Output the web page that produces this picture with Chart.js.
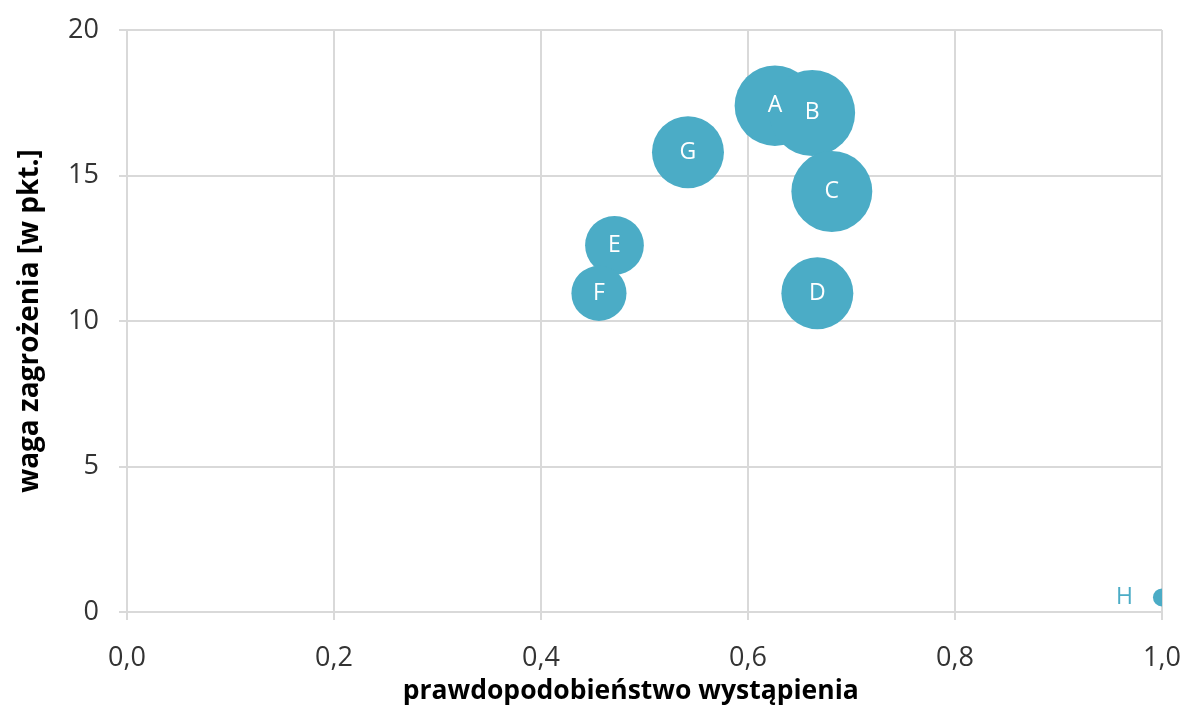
<!DOCTYPE html>
<html>
<head>
<meta charset="utf-8">
<script src="https://cdn.jsdelivr.net/npm/chart.js@4/dist/chart.umd.min.js"></script>
<style>
  html, body { margin: 0; padding: 0; background: #fff; }
  #wrap { width: 1187px; height: 715px; position: relative; }
</style>
</head>
<body>
<div id="wrap"><canvas id="riskChart"></canvas></div>
<script>
// zagrożenia A-H
const labels = ['A', 'B', 'C', 'D', 'E', 'F', 'G', 'H'];
const prawdopodobienstwo = [0.626, 0.662, 0.681, 0.667, 0.471, 0.456, 0.542, 1.0];
const waga = [17.4, 17.15, 14.45, 10.95, 12.6, 10.95, 15.8, 0.5];
const ryzyko = [10.9, 12.4, 11.0, 8.7, 5.8, 5.1, 8.7, 0.55];
const xTicks = [0, 0.2, 0.4, 0.6, 0.8, 1.0];
const yTicks = [0, 5, 10, 15, 20];

const blue = '#4bacc6';
const font = "'Open Sans', 'Noto Sans', sans-serif";

const points = labels.map((l, i) => ({ x: prawdopodobienstwo[i], y: waga[i], v: ryzyko[i], name: l }));

// big bubbles otherwise push the chart area inwards
Chart.BubbleController.prototype.getMaxOverflow = () => 0;

// napisy w bąbelkach
const bubbleLabels = {
  id: 'bubbleLabels',
  afterDatasetsDraw(chart) {
    const ctx = chart.ctx;
    const meta = chart.getDatasetMeta(0);
    ctx.save();
    ctx.font = '23px ' + font;
    ctx.textBaseline = 'middle';
    meta.data.forEach((el, i) => {
      const p = points[i];
      if (p.v < 1) {
        ctx.fillStyle = blue;
        ctx.textAlign = 'right';
        ctx.fillText(p.name, el.x - 29, el.y);
      } else {
        ctx.fillStyle = '#ffffff';
        ctx.textAlign = 'center';
        ctx.fillText(p.name, el.x, el.y);
      }
    });
    ctx.restore();
  }
};

new Chart(document.getElementById('riskChart'), {
  type: 'bubble',
  data: {
    datasets: [{
      data: points,
      backgroundColor: blue,
      borderWidth: 0,
      hoverBorderWidth: 0,
      clip: 0,
      radius: (c) => Math.sqrt(c.raw.v) * 12.2
    }]
  },
  options: {
    responsive: true,
    maintainAspectRatio: false,
    animation: false,
    layout: { padding: { top: 30, right: 25, left: 0, bottom: 0 } },
    plugins: {
      legend: { display: false },
      tooltip: { enabled: false }
    },
    scales: {
      x: {
        type: 'linear',
        min: 0,
        max: 1,
        afterBuildTicks: (s) => { s.ticks = xTicks.map(v => ({ value: v })); },
        afterFit: (s) => { s.height = 103; s.paddingLeft = 0; s.paddingRight = 0; },
        grid: { color: '#d9d9d9', lineWidth: 2, tickLength: 8 },
        border: { color: '#d9d9d9', width: 2 },
        ticks: {
          color: '#333333',
          padding: 22,
          font: { family: font, size: 27 },
          callback: (v) => v.toFixed(1).replace('.', ',')
        },
        title: {
          display: true,
          // trailing spaces nudge the centred title a bit to the left
          text: 'prawdopodobieństwo wystąpienia    ',
          color: '#000',
          padding: { top: 0, bottom: 8 },
          font: { family: font, size: 26.5, weight: 'bold' }
        }
      },
      y: {
        type: 'linear',
        min: 0,
        max: 20,
        afterBuildTicks: (s) => { s.ticks = yTicks.map(v => ({ value: v })); },
        afterFit: (s) => { s.width = 127; s.paddingTop = 0; s.paddingBottom = 0; },
        grid: { color: '#d9d9d9', lineWidth: 2, tickLength: 8 },
        border: { color: '#d9d9d9', width: 2 },
        ticks: {
          color: '#333333',
          padding: 20,
          font: { family: font, size: 27 }
        },
        title: {
          display: true,
          text: 'waga zagrożenia [w pkt.]',
          color: '#000',
          padding: { top: 13, bottom: 0 },
          font: { family: font, size: 28, weight: 'bold' }
        }
      }
    }
  },
  plugins: [bubbleLabels]
});
</script>
</body>
</html>
